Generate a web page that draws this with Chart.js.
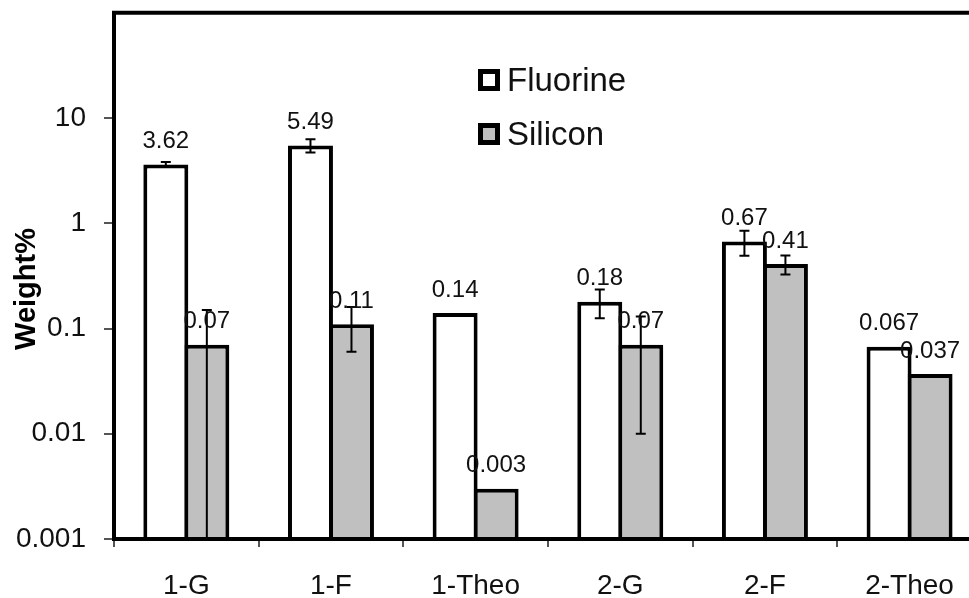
<!DOCTYPE html>
<html>
<head>
<meta charset="utf-8">
<script src="https://cdn.jsdelivr.net/npm/chart.js@4/dist/chart.umd.min.js"></script>
<style>
  html, body { margin: 0; padding: 0; background: #fff; overflow: hidden; width: 969px; height: 598px; }
  canvas { display: block; }
</style>
</head>
<body>
<canvas id="c" width="1000" height="598"></canvas>
<script>
// Sample groups and measured weight percentages
const categories = ['1-G', '1-F', '1-Theo', '2-G', '2-F', '2-Theo'];
const fluorine = [3.62, 5.49, 0.14, 0.18, 0.67, 0.067];
const silicon = [0.07, 0.11, 0.003, 0.07, 0.41, 0.037];
// Standard deviations (0 = theoretical value, no error bar)
const fluorineErr = [0.2, 0.8, 0, 0.055, 0.18, 0];
const siliconErr = [0.08, 0.05, 0, 0.06, 0.085, 0];
// Labelled decades on the log axis
const yTicks = [0.001, 0.01, 0.1, 1, 10];

const FONT = '"Liberation Sans", Arial, Helvetica, sans-serif';

// Vertical error bars, clipped to the plot area (a negative lower bound runs to the axis)
const errorBars = {
  id: 'errorBars',
  afterDatasetsDraw(chart) {
    const { ctx, chartArea } = chart;
    const y = chart.scales.y;
    ctx.save();
    ctx.beginPath();
    ctx.rect(chartArea.left, chartArea.top, chartArea.right - chartArea.left, chartArea.bottom - chartArea.top);
    ctx.clip();
    ctx.strokeStyle = '#000';
    ctx.lineWidth = 2;
    chart.data.datasets.forEach((ds, i) => {
      const meta = chart.getDatasetMeta(i);
      meta.data.forEach((bar, j) => {
        const v = ds.data[j], e = ds.errors[j];
        if (!e) return;
        const yt = y.getPixelForValue(v + e);
        const lowOk = v - e > 0;
        const yb = lowOk ? y.getPixelForValue(v - e) : chartArea.bottom + 4;
        ctx.beginPath();
        ctx.moveTo(bar.x, yt); ctx.lineTo(bar.x, yb);
        ctx.moveTo(bar.x - 5, yt); ctx.lineTo(bar.x + 5, yt);
        if (lowOk) { ctx.moveTo(bar.x - 5, yb); ctx.lineTo(bar.x + 5, yb); }
        ctx.stroke();
      });
    });
    ctx.restore();
  }
};

// Plot frame, value labels above each bar, and the inset legend
const decorations = {
  id: 'decorations',
  afterDatasetsDraw(chart) {
    const { ctx, chartArea } = chart;
    ctx.save();
    ctx.strokeStyle = '#000';
    ctx.lineWidth = 4;
    ctx.strokeRect(chartArea.left, chartArea.top, chartArea.right - chartArea.left, chartArea.bottom - chartArea.top);

    ctx.fillStyle = '#111';
    ctx.font = '24px ' + FONT;
    ctx.textAlign = 'center';
    ctx.textBaseline = 'middle';
    chart.data.datasets.forEach((ds, i) => {
      chart.getDatasetMeta(i).data.forEach((bar, j) => {
        ctx.fillText(String(ds.data[j]), bar.x, bar.y - 23);
      });
    });

    // legend
    ctx.font = '33px ' + FONT;
    ctx.textAlign = 'left';
    chart.data.datasets.forEach((ds, i) => {
      const bx = 478, by = 69 + i * 54, s = 22, b = 5;
      ctx.fillStyle = '#000';
      ctx.fillRect(bx, by, s, s);
      ctx.fillStyle = ds.backgroundColor;
      ctx.fillRect(bx + b, by + b, s - 2 * b, s - 2 * b);
      ctx.fillStyle = '#111';
      ctx.fillText(ds.label, 507, 82 + i * 54);
    });

    // y-axis title
    ctx.translate(27, 289);
    ctx.rotate(-Math.PI / 2);
    ctx.font = 'bold 29px ' + FONT;
    ctx.textAlign = 'center';
    ctx.fillStyle = '#000';
    ctx.fillText('Weight%', 0, 0);
    ctx.restore();
  }
};

function noScalePadding(scale) {
  scale.paddingTop = 0;
  scale.paddingBottom = 0;
  scale.paddingLeft = 0;
  scale.paddingRight = 0;
}

new Chart(document.getElementById('c'), {
  type: 'bar',
  data: {
    labels: categories,
    datasets: [
      { label: 'Fluorine', data: fluorine, errors: fluorineErr, backgroundColor: '#ffffff', borderColor: '#000', borderWidth: 4 },
      { label: 'Silicon', data: silicon, errors: siliconErr, backgroundColor: '#c0c0c0', borderColor: '#000', borderWidth: 4 }
    ]
  },
  options: {
    responsive: false,
    animation: false,
    devicePixelRatio: 1,
    layout: { padding: { left: 0, top: 12.75, right: 18.1, bottom: 0 } },
    // neighbouring bars share one border line
    datasets: { bar: { barPercentage: 1.097, categoryPercentage: 0.567, borderSkipped: 'start' } },
    plugins: { legend: { display: false }, tooltip: { enabled: false } },
    scales: {
      x: {
        offset: true,
        grid: { offset: true, drawOnChartArea: false, drawTicks: true, tickLength: 8, color: '#555', lineWidth: 2 },
        border: { display: false },
        ticks: { color: '#111', font: { family: FONT, size: 28 }, padding: 22, maxRotation: 0 },
        afterFit(scale) { scale.height = 59; noScalePadding(scale); }
      },
      y: {
        type: 'logarithmic',
        min: 0.001,
        max: 100,
        grid: { drawOnChartArea: false, drawTicks: true, tickLength: 10, color: '#555', lineWidth: 2 },
        border: { display: false },
        afterBuildTicks(scale) { scale.ticks = yTicks.map(v => ({ value: v })); },
        ticks: {
          color: '#111',
          font: { family: FONT, size: 28 },
          padding: 18,
          callback: (v) => String(v)
        },
        afterFit(scale) { scale.width = 114; noScalePadding(scale); }
      }
    }
  },
  plugins: [errorBars, decorations]
});
</script>
</body>
</html>
